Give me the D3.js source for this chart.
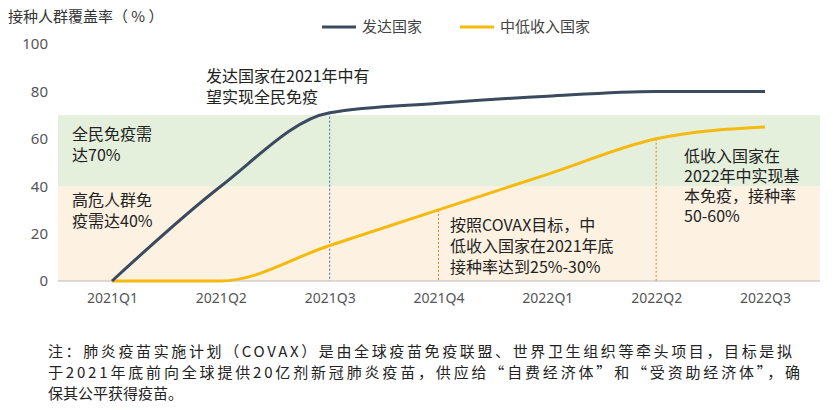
<!DOCTYPE html>
<html><head><meta charset="utf-8">
<script src="https://cdn.jsdelivr.net/npm/d3@7"></script>
<style>body{margin:0;background:#fff;font-family:"Noto Sans CJK SC","Noto Sans",sans-serif}</style>
</head><body><svg id="c" width="833" height="411"></svg>
<script>
// chart data
const quarters = ["2021Q1","2021Q2","2021Q3","2021Q4","2022Q1","2022Q2","2022Q3"];
const developed = [0, 40, 71, 75, 78, 80, 80];
const lowMid = [0, 0, 15, 30, 45, 60, 65];
const yTicks = [0, 20, 40, 60, 80, 100];

const svg = d3.select("#c");
const x = d3.scalePoint().domain(quarters).range([112, 765]);
const y = d3.scaleLinear().domain([0, 100]).range([281, 44]);
const left = 58, right = 820;

// target bands
svg.append("rect").attr("x", left).attr("width", right - left)
  .attr("y", y(40)).attr("height", y(0) - y(40)).attr("fill", "#fdf2e2");
svg.append("rect").attr("x", left).attr("width", right - left)
  .attr("y", y(70)).attr("height", y(40) - y(70)).attr("fill", "#e4f0dc");

// axes
const ya = svg.append("g").attr("transform", `translate(${left},0)`)
  .call(d3.axisLeft(y).tickValues(yTicks).tickSize(0).tickPadding(10));
ya.select(".domain").remove();
ya.selectAll("text").attr("font-size", 15).attr("fill", "#555").attr("font-family", "Noto Sans");
svg.append("line").attr("x1", left).attr("x2", right).attr("y1", y(0)).attr("y2", y(0)).attr("stroke", "#bbb");
const xa = svg.append("g").attr("transform", `translate(0,${y(0)})`)
  .call(d3.axisBottom(x).tickSize(0).tickPadding(12));
xa.select(".domain").remove();
xa.selectAll("text").attr("font-size", 14).attr("fill", "#555").attr("font-family", "Noto Sans");

// dotted guides
svg.append("line").attr("x1", x("2021Q3")).attr("x2", x("2021Q3"))
  .attr("y1", y(developed[2])).attr("y2", y(0)).attr("stroke", "#3f6aa8").attr("stroke-dasharray", "2,2");
[["2021Q4", lowMid[3]], ["2022Q2", lowMid[5]]].forEach(([q, v]) => {
  svg.append("line").attr("x1", x(q)).attr("x2", x(q)).attr("y1", y(v)).attr("y2", y(0))
    .attr("stroke", "#d9822b").attr("stroke-dasharray", "2,2");
});

// lines
const line = d3.line().x((d, i) => x(quarters[i])).y(d => y(d)).curve(d3.curveMonotoneX);
svg.append("path").datum(lowMid).attr("d", line).attr("fill", "none").attr("stroke", "#f5b90f").attr("stroke-width", 3);
svg.append("path").datum(developed).attr("d", line).attr("fill", "none").attr("stroke", "#3b4a5e").attr("stroke-width", 3);

// legend
const legend = [["发达国家", "#3b4a5e", 322], ["中低收入国家", "#f5b90f", 460]];
legend.forEach(([t, c, lx]) => {
  svg.append("line").attr("x1", lx).attr("x2", lx + 34).attr("y1", 27).attr("y2", 27).attr("stroke", c).attr("stroke-width", 3);
  svg.append("text").attr("x", lx + 40).attr("y", 32).attr("font-size", 15).attr("fill", "#444").text(t);
});
svg.append("text").attr("x", 8).attr("y", 22).attr("font-size", 15).attr("fill", "#333").text("接种人群覆盖率（ % ）");

// annotations
function note(lines, tx, ty, lh) {
  const t = svg.append("text").attr("font-size", 16).attr("fill", "#222");
  lines.forEach((s, i) => t.append("tspan").attr("x", tx).attr("y", ty + i * lh).text(s));
}
note(["发达国家在2021年中有", "望实现全民免疫"], 206, 82, 21);
note(["全民免疫需", "达70%"], 72, 140, 21);
note(["高危人群免", "疫需达40%"], 72, 206, 21);
note(["按照COVAX目标，中", "低收入国家在2021年底", "接种率达到25%-30%"], 450, 231, 21);
note(["低收入国家在", "2022年中实现基", "本免疫，接种率", "50-60%"], 684, 162, 20);
const foot = [["注：肺炎疫苗实施计划（COVAX）是由全球疫苗免疫联盟、世界卫生组织等牵头项目，目标是拟", 744],
 ["于2021年底前向全球提供20亿剂新冠肺炎疫苗，供应给“自费经济体”和“受资助经济体”，确", 752],
 ["保其公平获得疫苗。", 0]];
foot.forEach(([s, w], i) => {
  const t = svg.append("text").attr("font-size", 15).attr("fill", "#222")
    .attr("x", 48).attr("y", 357 + i * 21).text(s);
  if (w) t.attr("textLength", w).attr("lengthAdjust", "spacing");
});
</script></body></html>
